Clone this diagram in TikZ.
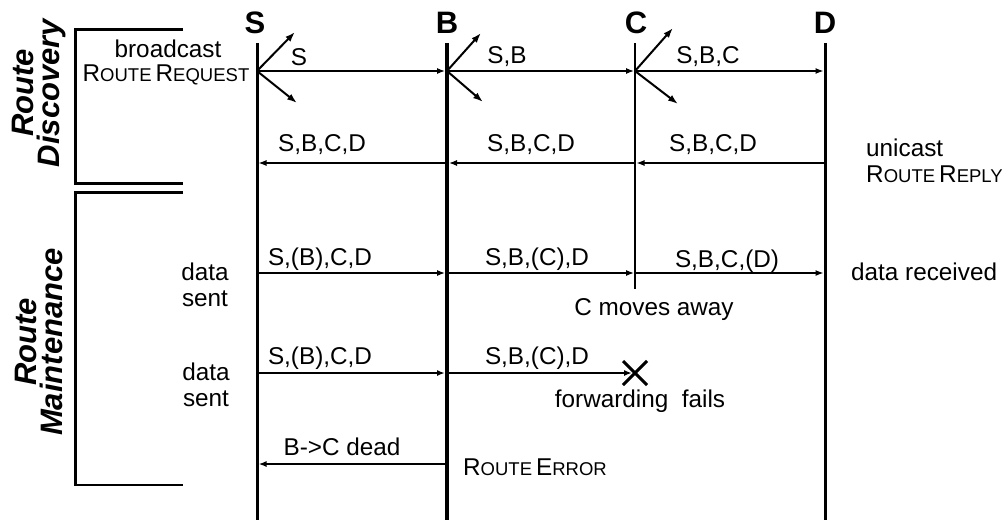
\documentclass[tikz,border=0pt]{standalone}
\usepackage{fontspec}
\setmainfont{Liberation Sans}
\usetikzlibrary{arrows.meta,calc}
\newcommand{\smcp}[1]{{\fontsize{18.5}{18.5}\selectfont #1}}
\begin{document}
\begin{tikzpicture}[x=1pt,y=-1pt,
  head/.style={font=\bfseries\fontsize{31}{31}\selectfont, inner sep=0pt},
  txt/.style={font=\fontsize{24.3}{26}\selectfont, inner sep=0pt, align=center},
  side/.style={font=\bfseries\itshape\fontsize{31}{25.5}\selectfont, inner sep=0pt, align=center, rotate=90},
  tip/.style={-{Latex[length=8pt,width=6pt]}},
  msg/.style={line width=1.2pt, tip},
  bmsg/.style={line width=2.4pt, tip},
  diag/.style={line width=2pt, -{Latex[length=10pt,width=7pt]}},
  bracket/.style={line width=3pt},
]
\useasboundingbox (0,0) rectangle (1003,523);

% lifeline heads
\node[head] (hS) at (255,23) {S};
\node[head] (hB) at (447,23) {B};
\node[head] (hC) at (636,23) {C};
\node[head] (hD) at (825,23) {D};

% lifeline coordinates
\coordinate (S0) at (257,43); \coordinate (Se) at (257,520);
\coordinate (B0) at (447,43); \coordinate (Be) at (447,520);
\coordinate (C0) at (635,43); \coordinate (Ce) at (635,289);
\coordinate (D0) at (825,43); \coordinate (De) at (825,520);

\draw[line width=3pt] (S0) -- (Se);
\draw[line width=4.5pt] (B0) -- (Be);
\draw[line width=2.6pt] (C0) -- (Ce);
\draw[line width=3pt] (D0) -- (De);

% message rows
\foreach \n/\x in {S/257,B/447,C/635,D/825}{
  \coordinate (\n1) at (\x,71);
  \coordinate (\n2) at (\x,163);
  \coordinate (\n3) at (\x,273);
  \coordinate (\n4) at (\x,373);
  \coordinate (\n5) at (\x,464);
}

% route request (broadcast)
\coordinate (Su) at (295,32); \coordinate (Sd) at (297,103);
\coordinate (Bu) at (481,33); \coordinate (Bd) at (483,102);
\coordinate (Cu) at (673,28); \coordinate (Cd) at (678,104);
\draw[diag] (S1) -- (Su);
\draw[diag] (S1) -- (Sd);
\draw[diag] (B1) -- (Bu);
\draw[diag] (B1) -- (Bd);
\draw[diag] (C1) -- (Cu);
\draw[diag] (C1) -- (Cd);
\draw[msg, shorten >=2pt] (S1) -- (B1);
\draw[msg, shorten >=1pt] (B1) -- (C1);
\draw[msg, shorten >=1.5pt] (C1) -- (D1);
\node[txt] (lS1) at (299,57) {S};
\node[txt] (lB1) at (507,57) {S,B};
\node[txt] (lC1) at (708,57) {S,B,C};
\node[txt] (bc) at (168,49) {broadcast};
\node[txt] (rreq) at (166,75) {R\smcp{OUTE}\,R\smcp{EQUEST}};

% route reply
\draw[msg, shorten >=1.5pt] (D2) -- (C2);
\draw[msg, shorten >=2pt] (C2) -- (B2);
\draw[msg, shorten >=1.5pt] (B2) -- (S2);
\node[txt] (lS2) at (322,145) {S,B,C,D};
\node[txt] (lB2) at (531,145) {S,B,C,D};
\node[txt] (lC2) at (713,145) {S,B,C,D};
\node[txt, anchor=west] (uc) at (866,148) {unicast};
\node[txt, anchor=west] (rrep) at (866,174) {R\smcp{OUTE}\,R\smcp{EPLY}};

% data sent 1
\draw[msg, shorten >=2pt] (S3) -- (B3);
\draw[msg, shorten >=1pt] (B3) -- (C3);
\draw[msg, shorten >=1.5pt] (C3) -- (D3);
\node[txt] (lS3) at (320,259) {S,(B),C,D};
\node[txt] (lB3) at (537,259) {S,B,(C),D};
\node[txt] (lC3) at (727,261) {S,B,C,(D)};
\node[txt] (ds1) at (205,285) {data\\sent};
\node[txt, anchor=west] (dr) at (851,272) {data received};
\node[txt] (cm) at (654,310) {C moves away};

% data sent 2
\coordinate (X) at (635,373);
\draw[bmsg, shorten >=2pt] (S4) -- (B4);
\draw[bmsg, shorten >=3pt] (B4) -- (X);
\draw[line width=3pt] ($(X)+(-12,-12)$) -- ($(X)+(12,12)$);
\draw[line width=3pt] ($(X)+(-12,12)$) -- ($(X)+(12,-12)$);
\node[txt] (lS4) at (320,358) {S,(B),C,D};
\node[txt] (lB4) at (537,358) {S,B,(C),D};
\node[txt] (ds2) at (206,385) {data\\sent};
\node[txt] (ff) at (640,401) {forwarding\ \ fails};

% route error
\draw[bmsg, shorten >=1.5pt] (B5) -- (S5);
\node[txt] (lS5) at (342,447) {B->C dead};
\node[txt] (rerr) at (535,467) {R\smcp{OUTE}\,E\smcp{RROR}};

% phase brackets
\draw[bracket] (183,29) -- (75,29) -- (75,183) -- (183,183);
\draw[bracket] (183,192) -- (75,192) -- (75,485);
\draw[line width=1.8pt] (74,485) -- (183,485);
\node[side] (rd) at (39,93) {Route\\Discovery};
\node[side] (rm) at (39,342) {Route\\Maintenance};
\end{tikzpicture}
\end{document}
